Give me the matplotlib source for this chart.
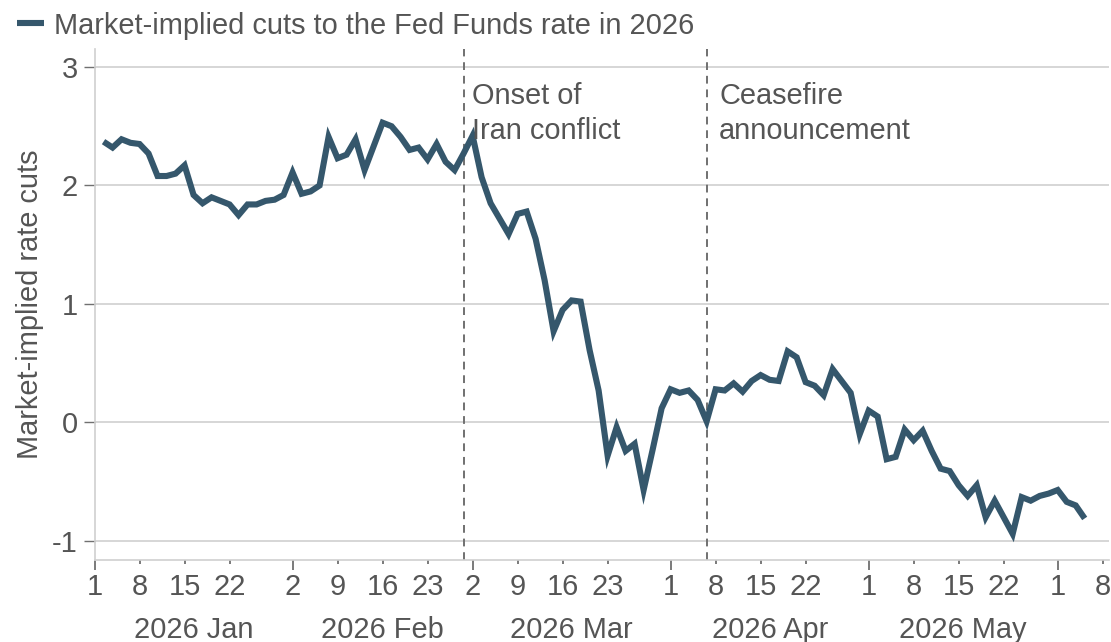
import numpy as np
import pandas as pd
import matplotlib
matplotlib.use("Agg")
import matplotlib.pyplot as plt
from matplotlib.transforms import blended_transform_factory
from matplotlib.lines import Line2D

plt.rcParams['font.family'] = ['Liberation Sans', 'DejaVu Sans']

# ---------------- data ----------------
series_label = "Market-implied cuts to the Fed Funds rate in 2026"
y_label = "Market-implied rate cuts"
start_date = "2026-01-02"
rate_cuts = [
    2.37, 2.32, 2.39, 2.36, 2.35, 2.27, 2.08, 2.08, 2.10, 2.17,
    1.92, 1.85, 1.90, 1.87, 1.84, 1.75, 1.84, 1.84, 1.87, 1.88,
    1.92, 2.11, 1.93, 1.95, 2.00, 2.41, 2.23, 2.26, 2.39, 2.13,
    2.33, 2.53, 2.50, 2.41, 2.30, 2.32, 2.22, 2.35, 2.20, 2.13,
    2.27, 2.42, 2.07, 1.85, 1.72, 1.59, 1.76, 1.78, 1.55, 1.20,
    0.77, 0.95, 1.03, 1.02, 0.61, 0.27, -0.28, -0.04, -0.24, -0.18,
    -0.57, -0.23, 0.12, 0.28, 0.25, 0.27, 0.19, 0.01, 0.28, 0.27,
    0.33, 0.26, 0.35, 0.40, 0.36, 0.35, 0.60, 0.55, 0.34, 0.31,
    0.23, 0.45, 0.35, 0.25, -0.10, 0.10, 0.05, -0.31, -0.29, -0.06,
    -0.15, -0.07, -0.24, -0.39, -0.41, -0.53, -0.62, -0.53, -0.80, -0.66,
    -0.80, -0.94, -0.63, -0.66, -0.62, -0.60, -0.57, -0.67, -0.70, -0.81,
]
major_tick_dates = ["2026-01-01", "2026-02-02", "2026-03-02", "2026-04-01",
                    "2026-05-01", "2026-06-01"]
minor_tick_dates = ["2026-01-08", "2026-01-15", "2026-01-22",
                    "2026-02-09", "2026-02-16", "2026-02-23",
                    "2026-03-09", "2026-03-16", "2026-03-23",
                    "2026-04-08", "2026-04-15", "2026-04-22",
                    "2026-05-08", "2026-05-15", "2026-05-22",
                    "2026-06-08"]
month_labels = ["2026 Jan", "2026 Feb", "2026 Mar", "2026 Apr", "2026 May"]
event_dates = ["2026-02-27", "2026-04-07"]
event_labels = ["Onset of\nIran conflict", "Ceasefire\nannouncement"]
y_ticks = [-1, 0, 1, 2, 3]

# ---------------- styling ----------------
LINE_COLOR = "#35576C"
TEXT_COLOR = "#555555"
GRID_COLOR = "#cfcfcf"
TICK_COLOR = "#707070"
FS = 20.9

# business-day calendar axis (weekends removed)
calendar = pd.bdate_range("2026-01-01", "2026-06-30")
pos = {d: i for i, d in enumerate(calendar)}
def to_x(d):
    return pos[pd.Timestamp(d)]

data_dates = pd.bdate_range(start_date, periods=len(rate_cuts))
x_data = [to_x(d) for d in data_dates]

fig = plt.figure(figsize=(11.11, 6.42), dpi=100)
ax = fig.add_axes([0.0851, 0.1273, 0.9131, 0.7964])

ax.plot(x_data, rate_cuts, color=LINE_COLOR, lw=4.4, solid_joinstyle='miter',
        solid_capstyle='butt', zorder=3)

ax.set_xlim(0, 112.7)
ax.set_ylim(-1.163, 3.152)

# grid
ax.set_yticks(y_ticks)
ax.set_yticklabels([str(v) for v in y_ticks])
ax.yaxis.grid(True, color=GRID_COLOR, lw=1.2, zorder=0)
ax.set_axisbelow(True)

for s in ["top", "right"]:
    ax.spines[s].set_visible(False)
for s in ["left", "bottom"]:
    ax.spines[s].set_color(GRID_COLOR)
    ax.spines[s].set_linewidth(1.2)

ax.tick_params(axis='y', length=8, width=1.0, color=TICK_COLOR,
               labelsize=FS, labelcolor=TEXT_COLOR, pad=4)

maj_x = [to_x(d) for d in major_tick_dates]
min_x = [to_x(d) for d in minor_tick_dates]
ax.set_xticks(maj_x)
ax.set_xticklabels([str(pd.Timestamp(d).day) for d in major_tick_dates])
ax.set_xticks(min_x, minor=True)
ax.set_xticklabels([str(pd.Timestamp(d).day) for d in minor_tick_dates], minor=True)
ax.tick_params(axis='x', which='major', length=7.2, width=1.3, color=TICK_COLOR,
               labelsize=FS, labelcolor=TEXT_COLOR, pad=2)
ax.tick_params(axis='x', which='minor', length=3, width=1.3, color=TICK_COLOR,
               labelsize=FS, labelcolor=TEXT_COLOR, pad=6.2)

# month labels centred between month starts
trans = blended_transform_factory(ax.transData, ax.transAxes)
for i, lab in enumerate(month_labels):
    mid = (maj_x[i] + maj_x[i + 1]) / 2
    ax.annotate(lab, xy=(mid, 0), xycoords=trans, xytext=(0, -50),
                textcoords='offset points', ha='center', va='center',
                fontsize=FS, color=TEXT_COLOR, annotation_clip=False)

# event lines & labels
for d, lab, off in zip(event_dates, event_labels, [6, 9]):
    ex = to_x(d)
    ax.axvline(ex, color="#707070", lw=1.4, ls=(0, (4, 3)), zorder=2)
    ax.annotate(lab, xy=(ex, 1), xycoords=trans, xytext=(off, -24),
                textcoords='offset points', ha='left', va='top',
                fontsize=FS, color=TEXT_COLOR, linespacing=1.3)

ax.set_ylabel(y_label, fontsize=FS, color=TEXT_COLOR)
ax.yaxis.set_label_coords(-0.05, 0.5)

# legend
handle = Line2D([], [], color=LINE_COLOR, lw=4.4, solid_capstyle='butt')
fig.legend([handle], [series_label], loc='upper left',
           bbox_to_anchor=(0.015, 0.982), frameon=False, fontsize=FS,
           handlelength=0.95, handletextpad=0.35, borderpad=0, borderaxespad=0,
           labelcolor=TEXT_COLOR)

fig.savefig("out.png", dpi=100)
